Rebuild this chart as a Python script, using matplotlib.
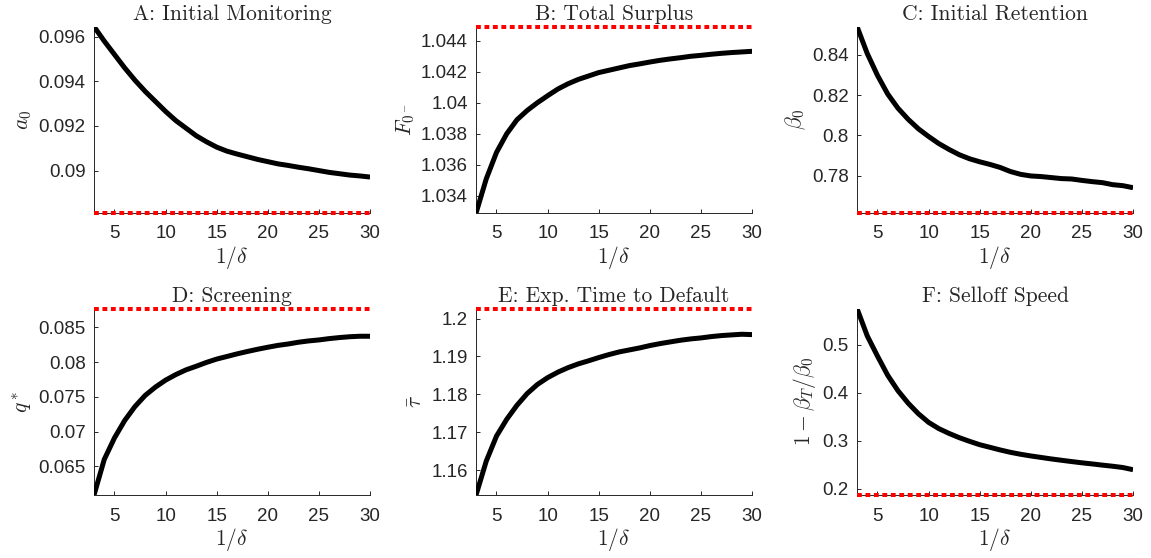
import numpy as np
import matplotlib
matplotlib.use("Agg")
import matplotlib.pyplot as plt
from matplotlib.ticker import FuncFormatter

plt.rcParams['mathtext.fontset'] = 'cm'
plt.rcParams['font.family'] = ['Liberation Sans', 'DejaVu Sans']

INK = '#262626'

# 1/delta grid
inv_delta = list(range(3, 31))

monitoring = [0.09645, 0.0958, 0.0952, 0.0946, 0.09405, 0.09355, 0.0931, 0.09265,
              0.09224, 0.0919, 0.09156, 0.09129, 0.09105, 0.09087, 0.09074, 0.09062,
              0.0905, 0.0904, 0.0903, 0.09023, 0.09015, 0.09008, 0.0900, 0.08992,
              0.08986, 0.0898, 0.08976, 0.08971]
surplus = [1.0329, 1.0351, 1.0368, 1.0380, 1.0389, 1.0395, 1.0400, 1.04045,
           1.04088, 1.04122, 1.0415, 1.04172, 1.04194, 1.04209, 1.04224, 1.04239,
           1.0425, 1.04262, 1.04273, 1.04282, 1.0429, 1.04299, 1.04305, 1.04312,
           1.04318, 1.04323, 1.04327, 1.04331]
retention = [0.8538, 0.8405, 0.8297, 0.8205, 0.8135, 0.8080, 0.8033, 0.7995,
             0.7960, 0.7931, 0.7905, 0.7885, 0.7870, 0.7857, 0.7842, 0.7822,
             0.7808, 0.7800, 0.7797, 0.7792, 0.7787, 0.7785, 0.7778, 0.7772,
             0.7767, 0.7757, 0.7752, 0.7742]
screening = [0.06089, 0.06600, 0.06910, 0.07160, 0.07360, 0.07520, 0.07640, 0.0774,
             0.0782, 0.07888, 0.0794, 0.07995, 0.08043, 0.0808, 0.08118, 0.08152,
             0.08184, 0.08213, 0.08240, 0.0826, 0.08285, 0.08304, 0.08318, 0.08337,
             0.08352, 0.08364, 0.08371, 0.08371]
time_default = [1.1534, 1.16237, 1.16897, 1.17340, 1.17710, 1.18020, 1.18260, 1.18440,
                1.18585, 1.18705, 1.18804, 1.18885, 1.18971, 1.1905, 1.1912, 1.19173,
                1.19226, 1.19288, 1.1934, 1.19385, 1.19429, 1.19464, 1.1949, 1.19525,
                1.19552, 1.1957, 1.19587, 1.19578]
selloff = [0.5748, 0.518, 0.476, 0.436, 0.404, 0.378, 0.356, 0.338,
           0.3250, 0.3150, 0.3062, 0.2986, 0.2915, 0.2861, 0.2806, 0.2757,
           0.2716, 0.2681, 0.2650, 0.2619, 0.2591, 0.2564, 0.2538, 0.2515,
           0.2490, 0.2467, 0.2440, 0.2395]

# benchmark levels (red dotted)
bench_monitoring = 0.0881
bench_surplus = 1.0449
bench_retention = 0.7617
bench_screening = 0.08768
bench_time_default = 1.20264
bench_selloff = 0.1868

titles = ['A: Initial Monitoring', 'B: Total Surplus', 'C: Initial Retention',
          'D: Screening', 'E: Exp. Time to Default', 'F: Selloff Speed']
ylabels = [r'$a_0$', r'$F_{0^-}$', r'$\beta_0$', r'$q^*$', r'$\bar{\tau}$',
           r'$1-\beta_T/\beta_0$']
yticks = [[0.09, 0.092, 0.094, 0.096],
          [1.034, 1.036, 1.038, 1.04, 1.042, 1.044],
          [0.78, 0.8, 0.82, 0.84],
          [0.065, 0.07, 0.075, 0.08, 0.085],
          [1.16, 1.17, 1.18, 1.19, 1.2],
          [0.2, 0.3, 0.4, 0.5]]
series = [monitoring, surplus, retention, screening, time_default, selloff]
benches = [bench_monitoring, bench_surplus, bench_retention,
           bench_screening, bench_time_default, bench_selloff]

fig = plt.figure(figsize=(11.51, 5.58), dpi=100)

lefts = [0.0817, 0.4136, 0.7446]
bottoms = [0.6183, 0.1129]
w, h = 0.2398, 0.334

fmt = FuncFormatter(lambda v, p: format(round(v, 6), 'g'))

for i in range(6):
    r, c = divmod(i, 3)
    ax = fig.add_axes([lefts[c], bottoms[r], w, h])
    y = series[i]
    b = benches[i]
    ax.plot(inv_delta, y, color='black', lw=3.6, solid_capstyle='butt',
            solid_joinstyle='round', zorder=3)
    ax.axhline(b, color='#ff0000', lw=2.9, dashes=(1.2, 0.9), clip_on=False, zorder=4)
    ax.set_xlim(3, 30)
    ax.set_ylim(min(min(y), b), max(max(y), b))
    ax.set_xticks([5, 10, 15, 20, 25, 30])
    ax.set_yticks(yticks[i])
    ax.yaxis.set_major_formatter(fmt)
    for s in ['top', 'right']:
        ax.spines[s].set_visible(False)
    for s in ['left', 'bottom']:
        ax.spines[s].set_color(INK)
        ax.spines[s].set_linewidth(0.7)
    ax.tick_params(direction='in', length=3, width=0.7, colors=INK,
                   labelsize=13.5)
    ax.tick_params(axis='x', pad=9)
    ax.tick_params(axis='y', pad=6)
    ax.set_title(titles[i], family='cmr10', fontsize=15.5, color=INK, pad=5)
    ax.set_xlabel(r'$1/\delta$', fontsize=15.5, color=INK, labelpad=1)
    ax.set_ylabel(ylabels[i], fontsize=15.5, color=INK, labelpad=3)

fig.savefig('out.png', dpi=100)
